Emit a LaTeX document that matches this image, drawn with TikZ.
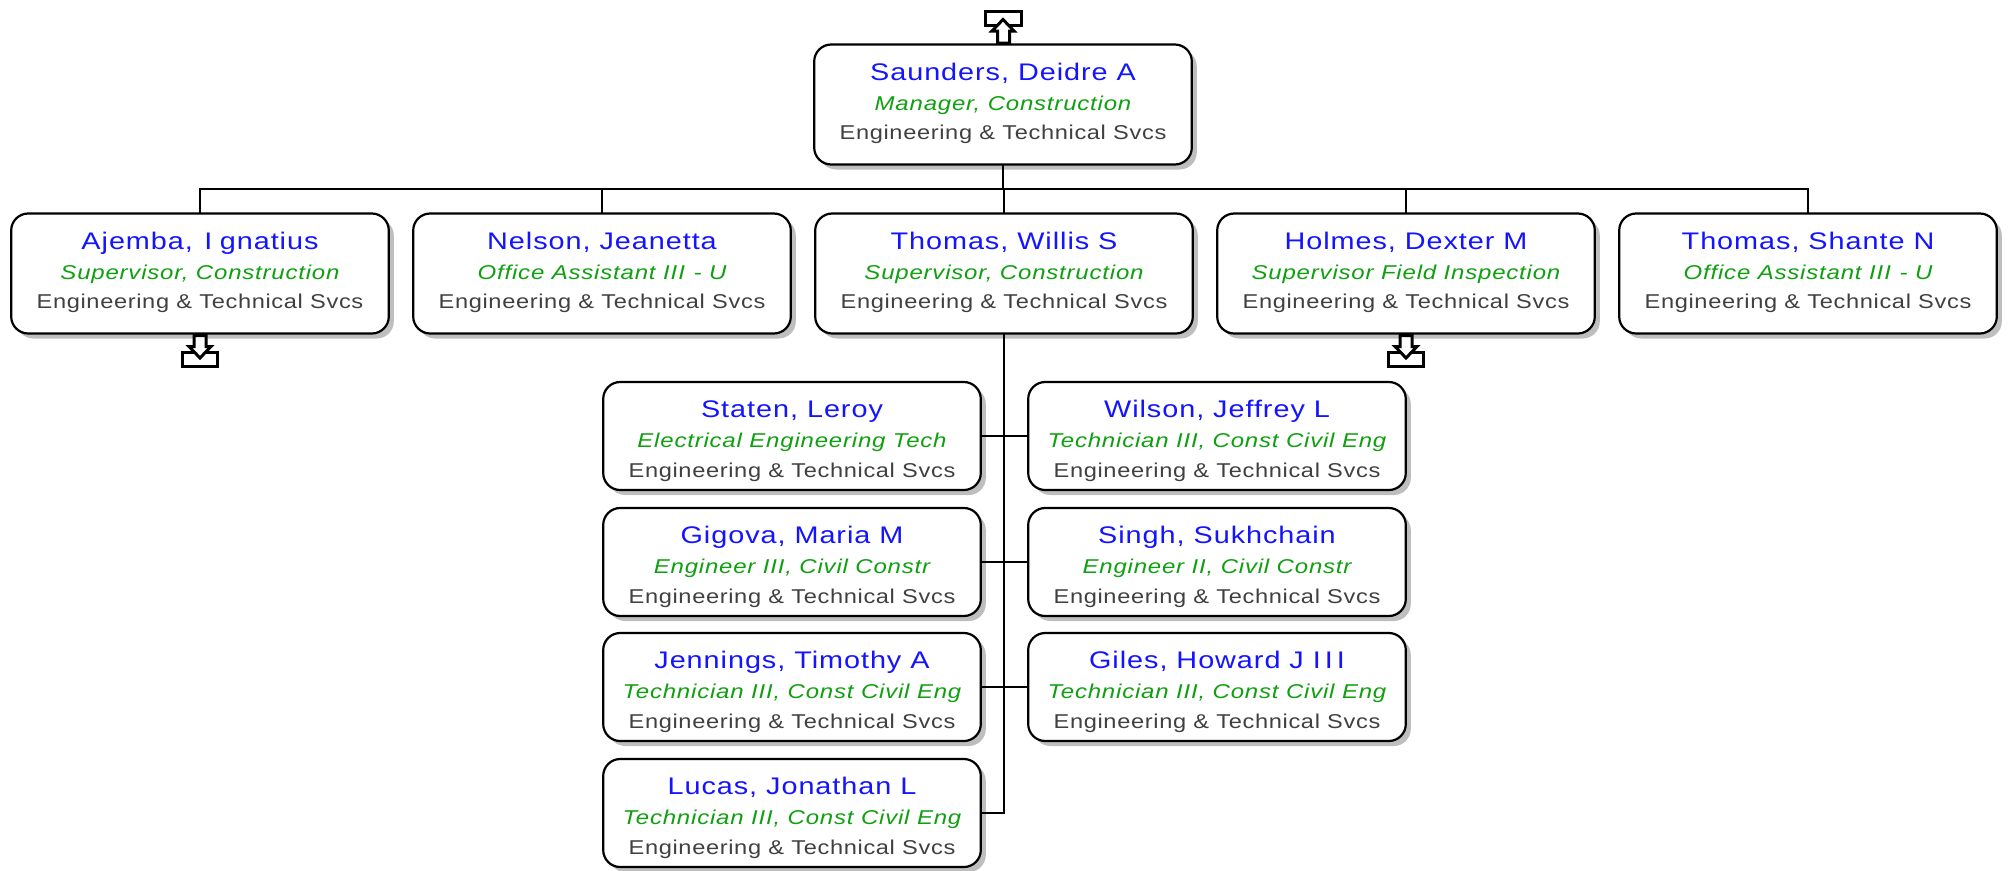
\documentclass[tikz,border=0pt]{standalone}
\usepackage{fontspec}
\usetikzlibrary{shadows}
\newfontfamily\namefont[FakeStretch=1.2,LetterSpace=4]{Liberation Sans}
\newfontfamily\titlefont[FakeStretch=1.2,LetterSpace=4]{Liberation Sans Italic}
\newfontfamily\deptfont[FakeStretch=1.18,LetterSpace=3.3]{Liberation Sans}
\definecolor{nameblue}{RGB}{20,20,255}
\definecolor{titlegreen}{RGB}{15,160,15}
\definecolor{deptgray}{RGB}{64,64,64}
\definecolor{shadowgray}{RGB}{190,190,190}
\tikzset{
  personbox/.style={draw=black,line width=2.2pt,fill=white,rounded corners=17pt,inner sep=0pt,outer sep=0pt,
    drop shadow={shadow xshift=5pt,shadow yshift=-5pt,fill=shadowgray,opacity=1}},
  wire/.style={draw=black,line width=2pt},
  iconline/.style={draw=black,line width=3pt,fill=white,miter limit=4}
}
\newcommand{\cardline}[1]{\hbox to 377.6pt{\hss\smash{#1}\hss}}
\newcommand{\card}[3]{\vbox to #1pt{\offinterlineskip\hsize=377.6pt
  \kern \ifnum#1<110 35.2pt\else 35.6pt\fi\cardline{\namefont\fontsize{24}{28}\selectfont\color{nameblue}#2}%
  \kern 30pt\cardline{\titlefont\fontsize{20}{24}\selectfont\color{titlegreen}#3}%
  \kern \ifnum#1<110 30pt\else 29pt\fi\cardline{\deptfont\fontsize{20}{24}\selectfont\color{deptgray}Engineering \& Technical Svcs}%
  \vss}}
\begin{document}
\begin{tikzpicture}[x=1pt,y=-1pt]
\useasboundingbox (0,0) rectangle (2013,870);
\node[personbox] (root) at (1003,104.5) {\card{120}{Saunders, Deidre A}{Manager, Construction}};
\node[personbox] (ajemba) at (200,273.5) {\card{120}{Ajemba, \kern2.5pt I\kern7.5pt gnatius}{Supervisor, Construction}};
\node[personbox] (nelson) at (602,273.5) {\card{120}{Nelson, Jeanetta}{Office Assistant I\kern1pt I\kern1pt I\kern1pt{} - U}};
\node[personbox] (thomasw) at (1004,273.5) {\card{120}{Thomas, Willis S}{Supervisor, Construction}};
\node[personbox] (holmes) at (1406,273.5) {\card{120}{Holmes, Dexter M}{Supervisor Field Inspection}};
\node[personbox] (thomass) at (1808,273.5) {\card{120}{Thomas, Shante N}{Office Assistant I\kern1pt I\kern1pt I\kern1pt{} - U}};
\node[personbox] (staten) at (792,436) {\card{108}{Staten, Leroy}{Electrical Engineering Tech}};
\node[personbox] (wilson) at (1217,436) {\card{108}{Wilson, Jeffrey L}{Technician III, Const Civil Eng}};
\node[personbox] (gigova) at (792,562) {\card{108}{Gigova, Maria M}{Engineer III, Civil Constr}};
\node[personbox] (singh) at (1217,562) {\card{108}{Singh, Sukhchain}{Engineer II, Civil Constr}};
\node[personbox] (jennings) at (792,687) {\card{108}{Jennings, Timothy A}{Technician III, Const Civil Eng}};
\node[personbox] (giles) at (1217,687) {\card{108}{Giles, Howard J I\kern4pt I\kern4pt I}{Technician III, Const Civil Eng}};
\node[personbox] (lucas) at (792,813) {\card{108}{Lucas, Jonathan L}{Technician III, Const Civil Eng}};
\coordinate (bus) at (1004,189);
\draw[wire] (root.south) -- (root.south |- bus);
\draw[wire] (ajemba.north) |- (bus);
\draw[wire] (nelson.north) |- (bus);
\draw[wire] (holmes.north) |- (bus);
\draw[wire] (thomass.north) |- (bus);
\draw[wire] (thomasw.north) -- (bus);
\draw[wire] (thomasw.south) |- (lucas.east);
\draw[wire] (staten.east) -- (wilson.west);
\draw[wire] (gigova.east) -- (singh.west);
\draw[wire] (jennings.east) -- (giles.west);
\draw[iconline] (985,11.5) rectangle (1021,25.5);
\draw[iconline] (997.5,43) -- (997.5,31) -- (992,31) -- (1003,19.5) -- (1014,31) -- (1009.5,31) -- (1009.5,43) -- cycle;
\foreach \cx in {200,1406}{
  \draw[iconline] (\cx-18,352.5) rectangle (\cx+17,366.5);
  \draw[iconline] (\cx-6,335.5) -- (\cx+6,335.5) -- (\cx+6,346.5) -- (\cx+11,346.5) -- (\cx,358) -- (\cx-11,346.5) -- (\cx-6,346.5) -- cycle;
}
\end{tikzpicture}
\end{document}
